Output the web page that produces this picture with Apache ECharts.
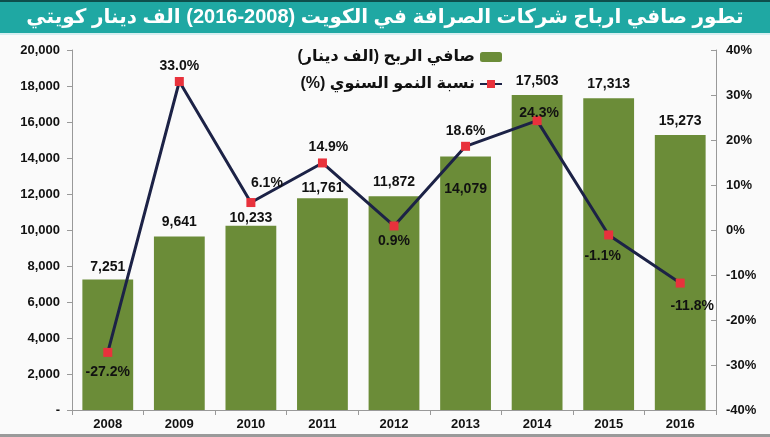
<!DOCTYPE html>
<html>
<head>
<meta charset="utf-8">
<script src="https://cdn.jsdelivr.net/npm/echarts@6/dist/echarts.min.js"></script>
<style>
html, body { margin: 0; padding: 0; background: #fafafa; }
#chart { width: 770px; height: 437px; }
</style>
</head>
<body>
<div id="chart"></div>
<script>
// صافي ارباح شركات الصرافة في الكويت
var years = ["2008", "2009", "2010", "2011", "2012", "2013", "2014", "2015", "2016"];
var profit = [7251, 9641, 10233, 11761, 11872, 14079, 17503, 17313, 15273];
var growth = [-27.2, 33.0, 6.1, 14.9, 0.9, 18.6, 24.3, -1.1, -11.8];
// label placement for each point (position, offset)
var growthPos = ["bottom", "top", "top", "top", "bottom", "top", "top", "bottom", "bottom"];
var growthOff = [[0, 0], [0, 0], [16, -4], [6, 0], [0, -4], [0, 0], [2, 8], [-6, 2], [12, 4]];
var profitPos = ["top", "top", "top", "top", "top", "insideTop", "top", "top", "top"];
var profitOff = [[0, 2], [0, 0], [0, 6], [0, 4], [0, 0], [0, 0], [0, 0], [0, 0], [0, 0]];
// legend names (written in the visual order of the original)
var barName = "(الف دينار) صافي الربح";
var lineName = "(%) نسبة النمو السنوي";

var font = "Liberation Sans, Arial, DejaVu Sans, sans-serif";
var chart = echarts.init(document.getElementById("chart"));

var option = {
	backgroundColor: "#fafafa",
	animation: false,
	textStyle: { fontFamily: font },
	graphic: [
		{
			type: "rect",
			shape: { x: 0, y: 0, width: 770, height: 33 },
			style: { fill: "#1fa8a3" },
			z: 0,
		},
		{
			type: "rect",
			shape: { x: 0, y: 0, width: 770, height: 2 },
			style: { fill: "#0e4f4c" },
			z: 1,
		},
		{
			type: "rect",
			shape: { x: 0, y: 33, width: 770, height: 2 },
			style: { fill: "#d6eef0" },
			z: 1,
		},
		{
			type: "rect",
			shape: { x: 0, y: 434, width: 770, height: 3 },
			style: { fill: "#9a9a9a" },
			z: 1,
		},
		{
			type: "text",
			x: 385,
			y: 17,
			style: {
				text: "تطور صافي ارباح شركات الصرافة في الكويت (2008-2016) الف دينار كويتي",
				fill: "#ffffff",
				font: "bold 20px " + font,
				textAlign: "center",
				textVerticalAlign: "middle",
			},
			z: 2,
		},
	],
	legend: {
		orient: "vertical",
		right: 262,
		top: 44,
		align: "right",
		itemGap: 11,
		itemWidth: 22,
		itemHeight: 10,
		textStyle: { fontSize: 16, fontWeight: "bold", color: "#111" },
		data: [barName, lineName],
	},
	grid: { left: 72, right: 54, top: 50, bottom: 27 },
	xAxis: {
		type: "category",
		data: years,
		axisLine: { show: true, lineStyle: { color: "#999" } },
		axisTick: { show: true, length: 5, lineStyle: { color: "#999" } },
		axisLabel: { fontSize: 13, fontWeight: "bold", color: "#111", margin: 8 },
		splitLine: { show: false },
	},
	yAxis: [
		{
			type: "value",
			min: 0,
			max: 20000,
			interval: 2000,
			axisLine: { show: true, lineStyle: { color: "#999" } },
			axisTick: { show: true, length: 5, lineStyle: { color: "#999" } },
			axisLabel: {
				fontSize: 13,
				fontWeight: "bold",
				color: "#111",
				margin: 12,
				formatter: function (v) {
					return v === 0 ? "-" : v.toLocaleString("en-US");
				},
			},
			splitLine: { show: false },
		},
		{
			type: "value",
			min: -40,
			max: 40,
			interval: 10,
			axisLine: { show: true, lineStyle: { color: "#999" } },
			axisTick: { show: true, inside: true, length: 5, lineStyle: { color: "#999" } },
			axisLabel: {
				fontSize: 13,
				fontWeight: "bold",
				color: "#111",
				margin: 10,
				formatter: "{value}%",
			},
			splitLine: { show: false },
		},
	],
	series: [
		{
			name: barName,
			type: "bar",
			barCategoryGap: "29%",
			itemStyle: { color: "#6b8c38" },
			data: profit.map(function (v, i) {
				return {
					value: v,
					label: {
						show: true,
						position: profitPos[i],
						offset: profitOff[i],
						distance: profitPos[i] === "top" ? 7 : 26,
						formatter: function (p) {
							return p.value.toLocaleString("en-US");
						},
						fontSize: 14,
						fontWeight: "bold",
						color: "#111",
					},
				};
			}),
		},
		{
			name: lineName,
			type: "line",
			yAxisIndex: 1,
			symbol: "rect",
			symbolSize: 9,
			lineStyle: { color: "#1c2246", width: 3 },
			itemStyle: { color: "#e8323c" },
			z: 5,
			data: growth.map(function (v, i) {
				return {
					value: v,
					label: {
						show: true,
						position: growthPos[i],
						offset: growthOff[i],
						distance: growthPos[i] === "top" ? 4 : 8,
						formatter: function (p) {
							return p.value.toFixed(1) + "%";
						},
						fontSize: 14,
						fontWeight: "bold",
						color: "#111",
					},
				};
			}),
		},
	],
};
chart.setOption(option, true);
</script>
</body>
</html>
